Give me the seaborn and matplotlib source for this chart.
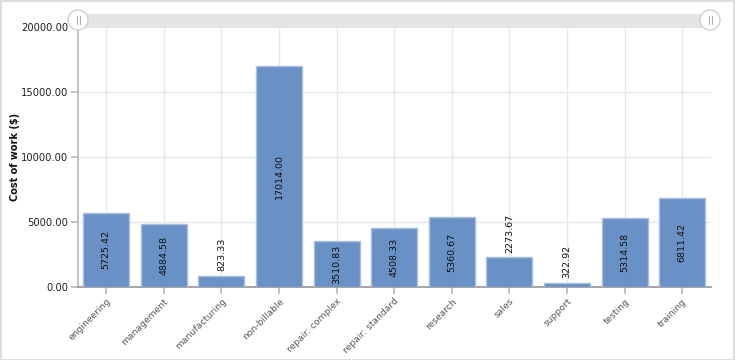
import matplotlib
matplotlib.use("Agg")
import matplotlib.pyplot as plt
import seaborn as sns
import pandas as pd
from matplotlib.patches import Rectangle, Ellipse
from matplotlib.lines import Line2D

categories = ["engineering", "management", "manufacturing", "non-billable", "repair: complex",
              "repair: standard", "research", "sales", "support", "testing", "training"]
costs = [5725.42, 4884.58, 823.33, 17014.00, 3510.83, 4508.33, 5360.67, 2273.67, 322.92, 5314.58, 6811.42]
yticks = [0, 5000, 10000, 15000, 20000]

sns.set_theme(style="white")
plt.rcParams['font.family'] = ['DejaVu Sans']

df = pd.DataFrame({"category": categories, "cost": costs})

W, H = 735, 360
fig = plt.figure(figsize=(W / 100, H / 100), dpi=100)
ax = fig.add_axes([78 / W, (H - 287) / H, (711 - 78) / W, (287 - 27) / H])

sns.barplot(data=df, x="category", y="cost", color="#6a91c5", saturation=1, width=0.8,
            edgecolor="#a9bfe0", linewidth=1, ax=ax, zorder=3)

ax.set_xlim(-0.49, 10.5)
ax.set_ylim(0, 20000)
ax.set_yticks(yticks)
ax.set_yticklabels([f"{v:.2f}" for v in yticks], fontsize=7.2, color="#222222")
ax.set_xticks(range(len(categories)))
ax.set_xticklabels(categories, rotation=45, ha="right", rotation_mode="anchor",
                   fontsize=6.6, color="#555555")
ax.set_xlabel("")
ax.set_ylabel("Cost of work ($)", fontsize=7, fontweight="bold", color="#111111")
ax.yaxis.set_label_coords(-(78 - 20) / (711 - 78), 0.5)

ax.grid(True, color="#e8e8e8", linewidth=1, zorder=0)
ax.set_axisbelow(True)
for s in ["top", "right"]:
    ax.spines[s].set_visible(False)
ax.spines["left"].set_color("#bbbbbb")
ax.spines["bottom"].set_color("#999999")
ax.tick_params(axis="both", which="both", length=5, color="#bbbbbb", pad=2, bottom=True, left=True)

for i, v in enumerate(costs):
    label = f"{v:.2f}"
    if v > 3000:
        ax.text(i, v / 2, label, rotation=90, ha="center", va="center", fontsize=6.8,
                color="#111111", zorder=4)
    else:
        ax.text(i, v + 380, label, rotation=90, ha="center", va="bottom", fontsize=6.8,
                color="#111111", zorder=4)

# scrollbar
fig.add_artist(Rectangle((78 / W, (H - 28) / H), (711 - 78) / W, 14 / H,
                         transform=fig.transFigure, facecolor="#e4e4e4", edgecolor="none"))
for cx in (78, 710):
    fig.add_artist(Ellipse((cx / W, (H - 20) / H), 20 / W, 20 / H, transform=fig.transFigure,
                           facecolor="white", edgecolor="#d0d0d0", linewidth=1, zorder=5))
    for dx in (-1.5, 1.5):
        fig.add_artist(Line2D([(cx + dx) / W, (cx + dx) / W], [(H - 16) / H, (H - 24) / H],
                              transform=fig.transFigure, color="#b0b0b0", linewidth=0.8, zorder=6))

# outer border
fig.add_artist(Rectangle((0.5 / W, 0.5 / H), (W - 1.5) / W, (H - 1.5) / H,
                         transform=fig.transFigure, facecolor="none", edgecolor="#d8d8d8",
                         linewidth=1.2))

fig.savefig("out.png", dpi=100)
